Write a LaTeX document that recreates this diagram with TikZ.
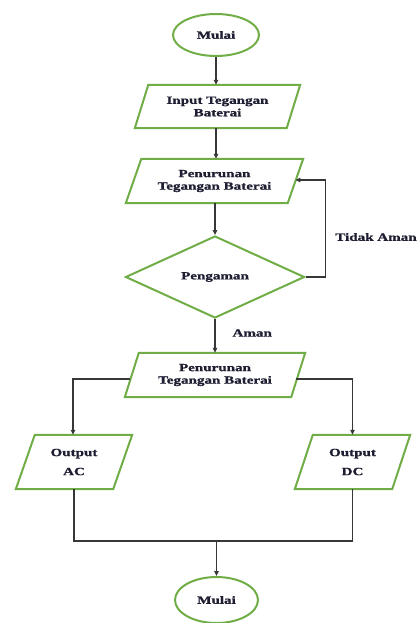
\documentclass[tikz,border=0pt]{standalone}
\usepackage{fontspec}
\setmainfont[FakeStretch=1.37,FakeBold=1.2]{Liberation Serif}
\usetikzlibrary{shapes.geometric,arrows.meta,calc}
\definecolor{grn}{RGB}{112,173,71}
\definecolor{ln}{RGB}{55,55,55}
\definecolor{txt}{RGB}{30,30,50}
\begin{document}
\begin{tikzpicture}[x=1pt,y=-1pt,
 font=\bfseries\fontsize{11}{12.5}\selectfont, text=txt,
 term/.style={ellipse, draw=grn, line width=2pt, inner sep=0pt},
 io/.style={rectangle, inner sep=0pt, align=center},
 dec/.style={diamond, draw=grn, line width=2pt, inner sep=0pt, aspect=2.18},
 conn/.style={draw=ln, line width=1.3pt},
 arr/.style={conn, -{Triangle[length=5pt,width=4.5pt]}}]
\useasboundingbox (0,0) rectangle (419,623);
\node[term, minimum width=86pt, minimum height=42pt] (start) at (216,35) {Mulai};
\node[io, minimum width=165pt, minimum height=43pt] (p1) at (217.5,106.5) {Input Tegangan\\Baterai};
\node[io, minimum width=177pt, minimum height=44pt] (p2) at (214.5,181) {Penurunan\\Tegangan Baterai};
\node[dec, minimum width=179pt, minimum height=82pt] (d) at (215,277) {Pengaman};
\node[io, minimum width=180pt, minimum height=44pt] (p3) at (215,375) {Penurunan\\Tegangan Baterai};
\node[io, minimum width=116pt, minimum height=54pt] (ac) at (74,462) {Output\\[6.5pt]AC};
\node[io, minimum width=115pt, minimum height=54pt] (dc) at (352.5,462) {Output\\[6.5pt]DC};
\node[term, minimum width=83pt, minimum height=46pt] (end) at (216.5,600) {Mulai};
\foreach \n/\s in {p1/13.5,p2/15.5,p3/14,ac/19,dc/18}
  \draw[grn, line width=2pt, line join=miter] ($(\n.north west)+(\s,0)$) -- (\n.north east) -- ($(\n.south east)-(\s,0)$) -- (\n.south west) -- cycle;
\node (tidak) at (376,237) {Tidak Aman};
\node[anchor=west] (aman) at (229,333) {Aman};
\coordinate (p2r) at ($(p2.east)+(-7.75,-1)$);
\coordinate (p3l) at ($(p3.west)+(5.5,4)$);
\coordinate (p3r) at ($(p3.east)+(-9,4)$);
\coordinate (m) at (216.5,541);
\draw[arr] (start.south) -- (start.south |- p1.north);
\draw[arr] (p1.south -| start.south) -- (start.south |- p2.north);
\draw[arr] (p2.south -| d.north) -- (d.north);
\draw[arr] (d.east) -- ++(20,0) |- (p2r);
\draw[arr] (d.south) -- (d.south |- p3.north);
\draw[arr] (p3l) -| ($(ac.north)+(-1,0)$);
\draw[arr] (p3r) -| (dc.north);
\draw[conn] (ac.south) |- (m) -| (dc.south);
\draw[arr] (m) -- (end.north);
\end{tikzpicture}
\end{document}
